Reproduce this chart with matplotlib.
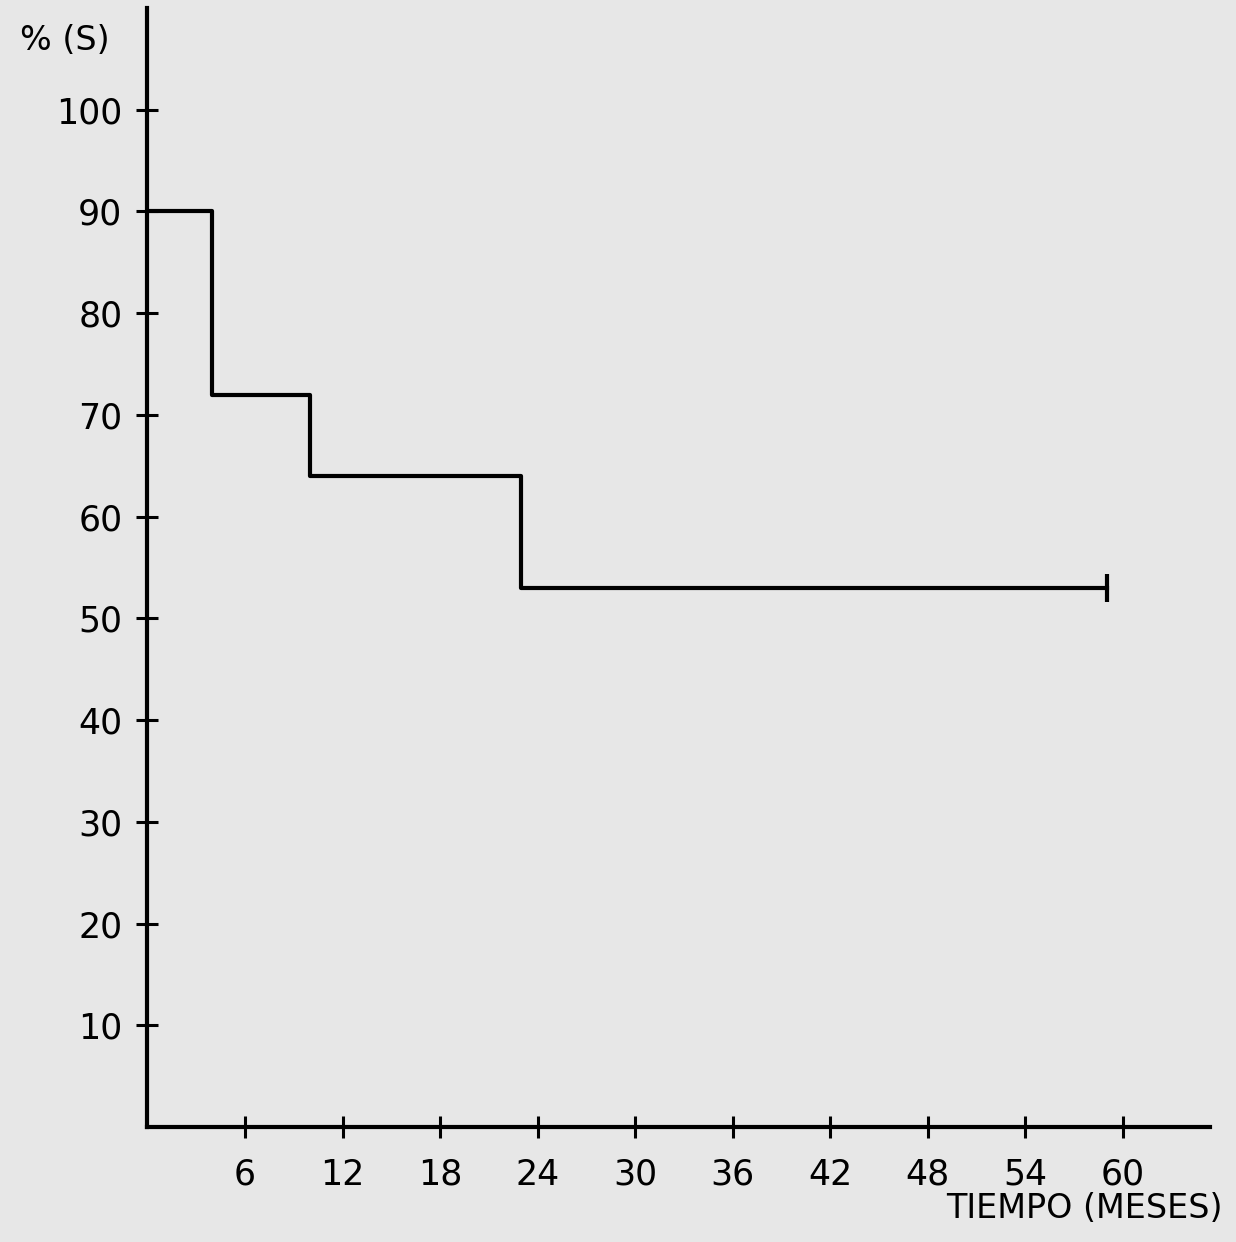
import matplotlib
matplotlib.use("Agg")
import matplotlib.pyplot as plt

# Data (survival step curve)
step_times = [0, 4, 10, 23, 59]
survival = [90, 72, 64, 53, 53]
censor_time = [59]
censor_value = [53]

x_ticks = [6, 12, 18, 24, 30, 36, 42, 48, 54, 60]
y_ticks = [10, 20, 30, 40, 50, 60, 70, 80, 90, 100]

bg = "#e7e7e7"
fig = plt.figure(figsize=(12.36, 12.42), dpi=100, facecolor=bg)
ax = fig.add_axes([0.1193, 0.0926, 0.8597, 0.901], facecolor=bg)

ax.step(step_times, survival, where="post", color="black", linewidth=3)
ax.plot(censor_time, censor_value, marker="|", markersize=20, markeredgewidth=3,
        color="black", linestyle="none")

ax.set_xlim(0, 65.35)
ax.set_ylim(0, 110)

for s in ["top", "right"]:
    ax.spines[s].set_visible(False)
for s in ["left", "bottom"]:
    ax.spines[s].set_linewidth(3)
    ax.spines[s].set_color("black")

ax.set_xticks(x_ticks)
ax.set_xticklabels([str(v) for v in x_ticks])
ax.set_yticks(y_ticks)
ax.set_yticklabels([str(v) for v in y_ticks])
ax.tick_params(axis="both", direction="inout", length=16, width=2.2, colors="black",
               labelsize=25, pad=10)
ax.tick_params(axis="x", pad=14)

fig.text(0.016, 0.967, "% (S)", fontsize=24, ha="left", va="center")
fig.text(0.989, 0.027, "TIEMPO (MESES)", fontsize=24, ha="right", va="center")

fig.savefig("out.png", dpi=100, facecolor=bg)
